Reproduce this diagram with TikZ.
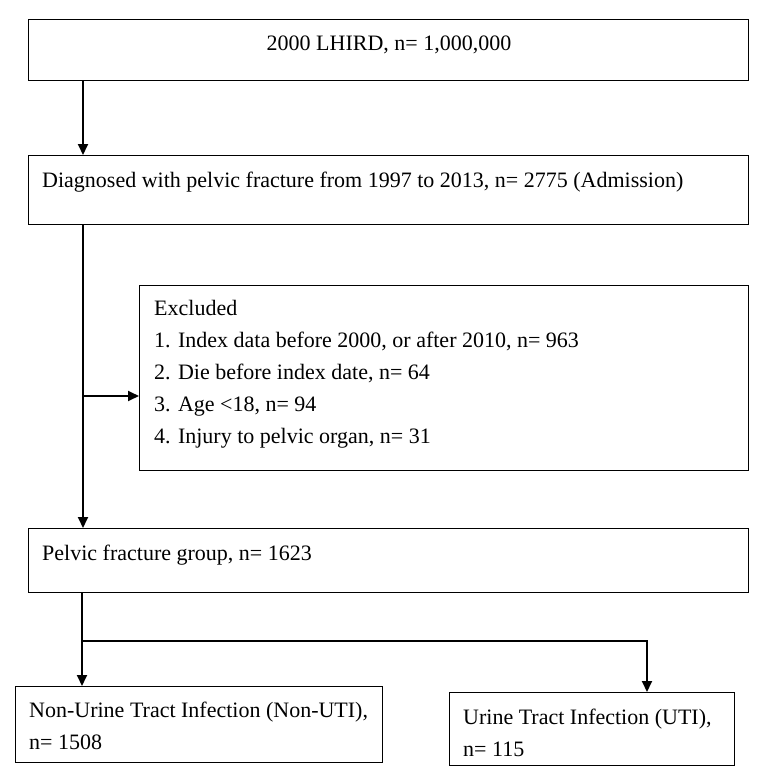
\documentclass[tikz,border=0pt]{standalone}
\usepackage{fontspec}
\setmainfont{Liberation Serif}
\usetikzlibrary{positioning,arrows.meta}

\begin{document}
\begin{tikzpicture}[x=1pt,y=-1pt,
    box/.style={draw, line width=1.3pt, inner sep=0pt, anchor=north west},
    txt/.style={inner sep=0pt, font=\fontsize{22}{32}\selectfont, align=left},
    arr/.style={-{Triangle[length=11pt,width=10pt]}, line width=1.8pt}]
    \useasboundingbox (0,0) rectangle (763,780);

    % boxes
    \node[box, minimum width=720pt, minimum height=61pt] (lhird) at (28,19) {};
    \node[box, minimum width=720pt, minimum height=69pt] (diag) at (28,155) {};
    \node[box, minimum width=609pt, minimum height=185pt] (excl) at (139,285) {};
    \node[box, minimum width=720pt, minimum height=64pt] (pelvic) at (28,528) {};
    \node[box, minimum width=367pt, minimum height=76pt] (nonuti) at (15,686) {};
    \node[box, minimum width=285pt, minimum height=73pt] (uti) at (449,692) {};

    % texts
    \node[txt, anchor=base] (lhirdtxt) at (389,50) {2000 LHIRD, n= 1,000,000};
    \node[txt, anchor=base west] (diagtxt) at (42,187) {Diagnosed with pelvic fracture from 1997 to 2013, n= 2775 (Admission)};
    \node[txt, anchor=north west] (excltxt) at (154,300) {Excluded\\
        1. Index data before 2000, or after 2010, n= 963\\
        2. Die before index date, n= 64\\
        3. Age <18, n= 94\\
        4. Injury to pelvic organ, n= 31};
    \node[txt, anchor=base west] (pelvictxt) at (42,560) {Pelvic fracture group, n= 1623};
    \node[txt, anchor=north west] (nonutitxt) at (29,702) {Non-Urine Tract Infection (Non-UTI),\\n= 1508};
    \node[txt, anchor=north west] (utitxt) at (463,709) {Urine Tract Infection (UTI),\\n= 115};

    % connectors
    \coordinate (split) at (83,396);
    \coordinate (fork) at (82,641);
    \draw[arr] (split |- lhird.south) -- (split |- diag.north);
    \draw[arr] (split |- diag.south) -- (split |- pelvic.north);
    \draw[arr] (split) -- (split -| excl.west);
    \draw[arr] (fork |- pelvic.south) -- (fork |- nonuti.north);
    \draw[arr] (fork) -| ([xshift=198pt]uti.north west);
\end{tikzpicture}
\end{document}
